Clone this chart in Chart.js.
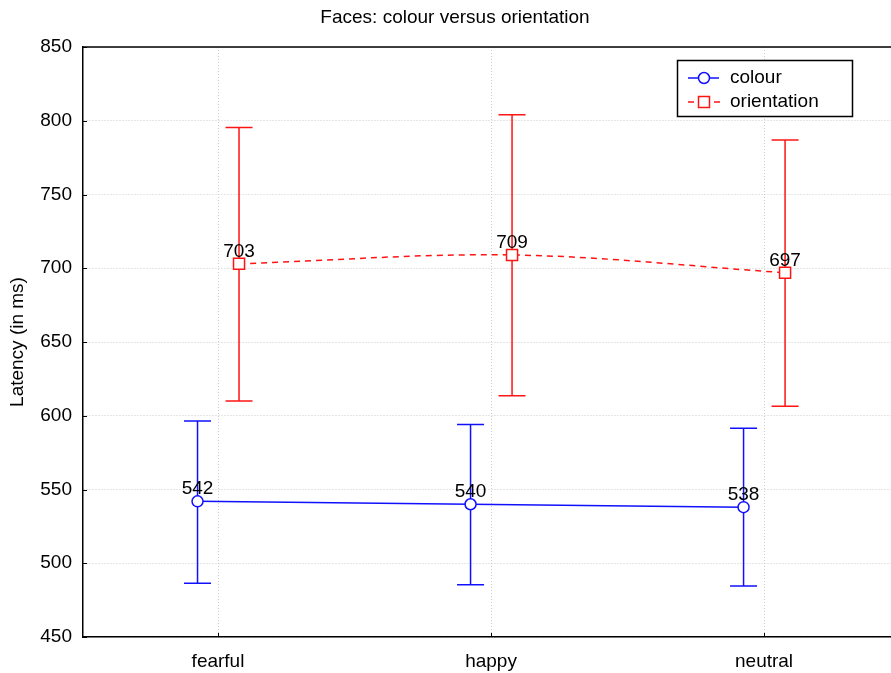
<!DOCTYPE html>
<html>
<head>
<meta charset="utf-8">
<title>Faces: colour versus orientation</title>
<script src="https://cdn.jsdelivr.net/npm/chart.js@4/dist/chart.umd.min.js"></script>
<style>
  html, body { margin: 0; padding: 0; background: #fff; }
  #wrap { width: 891px; height: 673px; }
</style>
</head>
<body>
<div id="wrap"><canvas id="c" width="891" height="673"></canvas></div>
<script>
// Mean latency (ms) per face type, with the ends of each error bar
const CATEGORIES = ['fearful', 'happy', 'neutral'];
const COLOUR_MEAN = [542, 540, 538];
const COLOUR_LOW = [486.5, 485.5, 484.5];
const COLOUR_HIGH = [596.5, 594, 591.5];
const ORIENT_MEAN = [703, 709, 697];
const ORIENT_LOW = [610, 613.5, 606.5];
const ORIENT_HIGH = [795.5, 804, 787];
const Y_TICKS = [450, 500, 550, 600, 650, 700, 750, 800, 850];
const SERIES_NAMES = ['colour', 'orientation'];

const FONT = "'Liberation Sans', Arial, Helvetica, sans-serif";
const FSIZE = 19;
const BLUE = '#1010ff';
const RED = '#ff1414';
// horizontal nudge of each series away from the category centre
const SHIFT = [-0.075, 0.077];

function pts(means, shift) {
  return means.map((v, i) => ({ x: i + shift, y: v }));
}

const errorBars = {
  id: 'errorBars',
  beforeDatasetsDraw(chart) {
    const { ctx } = chart;
    const xs = chart.scales.x, ys = chart.scales.y;
    const sets = [
      [COLOUR_LOW, COLOUR_HIGH, SHIFT[0], BLUE],
      [ORIENT_LOW, ORIENT_HIGH, SHIFT[1], RED]
    ];
    ctx.save();
    ctx.lineWidth = 1.5;
    sets.forEach(([lo, hi, sh, col]) => {
      ctx.strokeStyle = col;
      lo.forEach((l, i) => {
        const px = xs.getPixelForValue(i + sh);
        const y1 = ys.getPixelForValue(l), y2 = ys.getPixelForValue(hi[i]);
        ctx.beginPath();
        ctx.moveTo(px, y1); ctx.lineTo(px, y2);
        ctx.moveTo(px - 13.5, y1); ctx.lineTo(px + 13.5, y1);
        ctx.moveTo(px - 13.5, y2); ctx.lineTo(px + 13.5, y2);
        ctx.stroke();
      });
    });
    ctx.restore();
  },
  afterDatasetsDraw(chart) {
    const { ctx } = chart;
    const xs = chart.scales.x, ys = chart.scales.y;
    ctx.save();
    ctx.fillStyle = '#000';
    ctx.font = FSIZE + 'px ' + FONT;
    ctx.textAlign = 'center';
    ctx.textBaseline = 'alphabetic';
    [[COLOUR_MEAN, SHIFT[0]], [ORIENT_MEAN, SHIFT[1]]].forEach(([m, sh]) => {
      m.forEach((v, i) => {
        ctx.fillText(String(v), xs.getPixelForValue(i + sh), ys.getPixelForValue(v) - 7);
      });
    });
    ctx.restore();
  }
};

const frame = {
  id: 'frame',
  afterDraw(chart) {
    const { ctx, chartArea: a } = chart;
    const xs = chart.scales.x, ys = chart.scales.y;
    ctx.save();
    // top edge of the plot box
    ctx.strokeStyle = '#000';
    ctx.lineWidth = 1.5;
    ctx.beginPath();
    ctx.moveTo(a.left, a.top); ctx.lineTo(chart.width, a.top);
    ctx.stroke();
    // inward tick marks
    ctx.lineWidth = 1;
    ctx.beginPath();
    Y_TICKS.forEach(v => {
      const py = Math.round(ys.getPixelForValue(v)) + 0.5;
      ctx.moveTo(a.left, py); ctx.lineTo(a.left + 4, py);
    });
    CATEGORIES.forEach((c, i) => {
      const px = Math.round(xs.getPixelForValue(i)) + 0.5;
      ctx.moveTo(px, a.bottom); ctx.lineTo(px, a.bottom - 4);
    });
    ctx.stroke();

    // title
    ctx.fillStyle = '#000';
    ctx.font = FSIZE + 'px ' + FONT;
    ctx.textAlign = 'center';
    ctx.textBaseline = 'middle';
    ctx.fillText('Faces: colour versus orientation', 455, 18);

    // legend box
    const bx = 677.5, by = 60.5, bw = 175, bh = 56;
    ctx.fillStyle = '#fff';
    ctx.fillRect(bx, by, bw, bh);
    ctx.strokeStyle = '#000';
    ctx.lineWidth = 1.5;
    ctx.strokeRect(bx, by, bw, bh);

    const rows = [
      { y: 78, col: BLUE, marker: 'circle' },
      { y: 102, col: RED, marker: 'rect' }
    ];
    rows.forEach((r, k) => {
      ctx.strokeStyle = r.col;
      ctx.lineWidth = 1.5;
      ctx.beginPath();
      if (r.marker === 'circle') {
        ctx.moveTo(688, r.y); ctx.lineTo(719, r.y);
      } else {
        ctx.moveTo(688, r.y); ctx.lineTo(694, r.y);
        ctx.moveTo(714, r.y); ctx.lineTo(720, r.y);
      }
      ctx.stroke();
      ctx.fillStyle = '#fff';
      ctx.beginPath();
      if (r.marker === 'circle') {
        ctx.arc(704, r.y, 5.5, 0, Math.PI * 2);
      } else {
        ctx.rect(698.5, r.y - 5.5, 11, 11);
      }
      ctx.fill();
      ctx.stroke();
      ctx.fillStyle = '#000';
      ctx.font = FSIZE + 'px ' + FONT;
      ctx.textAlign = 'left';
      ctx.textBaseline = 'middle';
      ctx.fillText(SERIES_NAMES[k], 730, r.y);
    });
    ctx.restore();
  }
};

new Chart(document.getElementById('c'), {
  type: 'line',
  data: {
    datasets: [
      {
        label: SERIES_NAMES[0],
        data: pts(COLOUR_MEAN, SHIFT[0]),
        borderColor: BLUE,
        borderWidth: 1.5,
        backgroundColor: '#fff',
        pointStyle: 'circle',
        pointRadius: 5.5,
        pointBorderWidth: 1.5,
        pointBorderColor: BLUE,
        pointBackgroundColor: '#fff',
        tension: 0
      },
      {
        label: SERIES_NAMES[1],
        data: pts(ORIENT_MEAN, SHIFT[1]),
        borderColor: RED,
        borderWidth: 1.5,
        borderDash: [6, 5],
        backgroundColor: '#fff',
        pointStyle: 'rect',
        pointRadius: 7.8,
        pointBorderWidth: 1.5,
        pointBorderColor: RED,
        pointBackgroundColor: '#fff',
        tension: 0.35
      }
    ]
  },
  options: {
    responsive: false,
    animation: false,
    devicePixelRatio: 1,
    layout: { autoPadding: false, padding: { top: 47, right: 0, bottom: 0, left: 0 } },
    plugins: {
      legend: { display: false },
      title: { display: false },
      tooltip: { enabled: false }
    },
    scales: {
      x: {
        type: 'linear',
        min: -0.4945,
        max: 2.465,
        afterBuildTicks(scale) {
          scale.ticks = CATEGORIES.map((c, i) => ({ value: i }));
        },
        afterFit(scale) { scale.height = 36; },
        ticks: {
          callback: (v) => CATEGORIES[v] ?? '',
          color: '#000',
          font: { family: FONT, size: FSIZE },
          padding: 13,
          maxRotation: 0,
          autoSkip: false
        },
        grid: { color: '#c6cfcf', lineWidth: 1, drawTicks: false },
        border: { display: true, color: '#000', width: 1.5, dash: [1, 2] }
      },
      y: {
        min: 450,
        max: 850,
        afterBuildTicks(scale) {
          scale.ticks = Y_TICKS.map(v => ({ value: v }));
        },
        afterFit(scale) { scale.width = 83; },
        ticks: {
          color: '#000',
          font: { family: FONT, size: FSIZE },
          padding: 11
        },
        grid: { color: '#c6cfcf', lineWidth: 1, drawTicks: false },
        border: { display: true, color: '#000', width: 1.5, dash: [1, 2] },
        title: {
          display: true,
          text: 'Latency (in ms)',
          color: '#000',
          font: { family: FONT, size: FSIZE },
          padding: { top: 6, bottom: 0 }
        }
      }
    }
  },
  plugins: [errorBars, frame]
});
</script>
</body>
</html>
